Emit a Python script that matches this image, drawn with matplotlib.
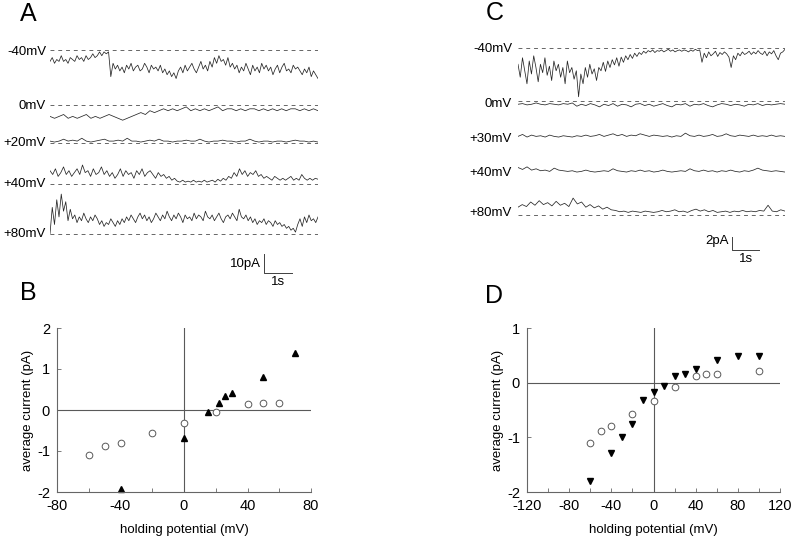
import matplotlib

matplotlib.use("Agg")
import matplotlib.pyplot as plt
import numpy as np

plt.rcParams["font.family"] = ["Liberation Sans", "DejaVu Sans"]
plt.rcParams["axes.unicode_minus"] = False

W, H = 800, 541

# --- panel A traces (pA, relative to zero-current baseline) ---
A_LABELS = ["-40mV", "0mV", "+20mV", "+40mV", "+80mV"]
a_m40 = [-6, -4, -7, -5, -6, -3, -6, -5, -7, -4, -5, -6, -3, -5, -4, -6, -3, -5, -4, -2,
         -4, -3, -1, -3, -1, -2, -1,
         -14, -7, -10, -8, -11, -9, -12, -8, -10, -7, -11, -9, -8, -11, -10, -7, -9, -12,
         -8, -10, -9, -11, -8, -12, -10, -13, -11, -14, -12, -15, -11,
         -9, -12, -8, -11, -9, -7, -10, -12, -9, -6, -10, -8, -11,
         -6, -9, -4, -7, -3, -6, -5, -8, -4, -9, -7,
         -10, -8, -12, -9, -11, -7, -10, -13, -8, -11, -9, -12, -7, -10, -8, -11, -9, -13,
         -10, -8, -12, -9, -7, -11, -10, -12, -8, -10, -9, -11, -13, -10, -12, -9, -14,
         -11, -13, -15]
a_0 = [-6, -7, -6, -5, -7, -6, -7, -6, -5, -7, -6, -7, -6, -5, -6, -7, -8, -7, -6, -5,
       -4, -5, -3, -4, -3, -2, -3, -2, -3, -2, -1, -3, -2, -3, -2, -3, -2, -1, -3, -2,
       -2, -3, -2, -3, -2, -2, -3, -2, -3, -2, -3, -2, -3, -2, -2, -3, -2, -3, -2, -3]
a_20 = [1, 0.5, 1, 2, 1, 1.5, 1, 2.5, 1, 0.5, 1, 1.5, 2, 1, 1, 1.5, 1, 2.5, 1, 1,
        0.5, 1, 1.5, 1, 2, 1, 1, 0.5, 1, 1, 1.5, 1, 1, 2, 1, 0.5, 1, 1, 1.5, 1,
        1, 0.5, 1, 1, 2, 1, 0.5, 1, 1, 0.5, 1, 1, 0.5, 1, 1.5, 1, 1, 0.5, 1, 0.5]
a_40 = [7, 5, 8, 4, 6, 9, 5, 7, 4, 6, 8, 5, 10, 6, 7, 4, 8, 5, 6, 9, 5, 7, 4, 6, 3, 5,
        8, 4, 7, 5, 6, 3, 7, 5, 8, 4, 6, 7, 5, 3, 6, 4, 5, 3, 4, 2, 3, 1.5, 1, 2, 1, 1.5,
        1, 2, 1, 1.5, 1, 2, 1, 1.5, 2, 1, 2.5, 1.5, 3, 2, 4, 3, 6, 4, 8, 5, 7, 4, 6, 5, 7,
        4, 5, 3, 4, 3, 2, 4, 3, 2, 3, 2, 3, 4, 2, 3, 2, 5, 3, 2, 3, 2, 3, 2.5]
a_80 = [0, 14, 5, 18, 9, 21, 12, 17, 7, 13, 8, 10, 6, 9, 7, 11, 8, 6, 9, 7, 10, 8, 5, 7,
        4, 6, 5, 8, 6, 4, 7, 5, 8, 6, 9, 7, 10, 8, 6, 9, 11, 8, 10, 7, 9, 6, 8, 11, 9, 7,
        10, 8, 12, 9, 7, 10, 8, 11, 9, 6, 10, 8, 9, 7, 11, 8, 10, 9, 7, 12, 9, 8, 10, 7,
        9, 11, 8, 6, 9, 10, 8, 11, 9, 7, 13, 9, 8, 10, 7, 9, 6, 8, 5, 7, 6, 8, 5, 7, 6,
        4, 7, 5, 6, 4, 5, 3, 4, 2, 3, 1, 5, 8, 4, 9, 6, 10, 7, 8, 6, 9]

# --- panel C traces ---
C_LABELS = ["-40mV", "0mV", "+30mV", "+40mV", "+80mV"]
c_m40 = [-2.5, -4.5, -1.5, -3.5, -5.5, -2, -4, -1.2, -3, -5.2, -2.5, -3.8, -1.5, -4.2,
         -2.8, -5, -2, -3.5, -2.5, -4.5, -3, -5.5, -2, -3.8, -3, -4.8, -3.5, -7.5, -4,
         -5.5, -3, -4.5, -2.5, -4, -3.2, -5, -3, -3.5, -2.2, -3.6, -2, -3, -1.8, -2.6,
         -1.5, -2.8, -1.4, -2.2, -1.2, -1.8, -1, -1.6, -0.8, -1.3, -0.7, -1, -0.5, -0.8,
         -0.4, -0.6, -0.3, -0.7, -0.4, -0.5, -0.3, -0.6, -0.4, -0.2, -0.5, -0.3, -0.6,
         -0.4, -0.3, -0.5, -0.3, -0.4, -0.6, -0.3, -0.5, -0.2, -0.4, -0.3, -2.2, -0.8,
         -1.5, -0.6, -1.2, -0.9, -0.5, -1.3, -0.7, -1, -0.6, -0.9, -1.4, -3, -1.2, -1.8,
         -0.8, -1.2, -0.6, -1, -0.8, -0.5, -1, -0.6, -0.9, -0.4, -0.8, -1, -0.5, -1.2,
         -0.6, -0.9, -0.4, -1.2, -1.8, -0.8, -0.6, -0.2]
c_0 = [-0.5, -0.4, -0.6, -0.5, -0.3, -0.5, -0.6, -0.4, -0.5, -0.6, -0.4, -0.5, -0.3,
       -0.8, -0.5, -0.7, -0.4, -0.6, -0.9, -0.5, -0.7, -0.4, -0.8, -0.5, -0.6, -0.9,
       -0.5, -0.4, -0.7, -0.5, -0.8, -0.6, -0.4, -0.7, -0.9, -0.5, -0.6, -0.4, -0.8,
       -0.5, -0.6, -0.4, -0.7, -0.9, -0.6, -0.4, -0.5, -0.7, -0.5, -0.6, -0.8, -0.5,
       -0.6, -0.4, -0.7, -0.5, -0.6, -0.5, -0.4, -0.5]
c_30 = [0.4, 0.7, 0.3, 0.6, 0.4, 0.5, 0.3, 0.6, 0.4, 0.3, 0.5, 0.4, 0.3, 0.5, 0.4,
        0.6, 0.4, 0.5, 0.7, 0.4, 0.6, 0.8, 0.5, 0.7, 0.4, 0.6, 0.5, 0.8, 0.6, 0.4,
        0.6, 0.5, 0.4, 0.5, 0.3, 0.5, 0.4, 0.9, 0.5, 0.4, 0.6, 0.4, 0.5, 0.7, 0.4,
        0.5, 0.8, 0.5, 0.4, 0.6, 0.5, 0.4, 0.6, 0.4, 0.5, 0.4, 0.6, 0.4, 0.5, 0.4]
c_40 = [1.0, 0.7, 1.1, 0.6, 0.8, 0.5, 0.6, 0.4, 0.9, 0.6, 0.5, 0.4, 0.5, 0.3, 0.4,
        0.6, 0.4, 0.3, 0.4, 0.5, 0.4, 0.8, 0.5, 0.4, 0.3, 0.5, 0.4, 0.6, 0.4, 0.5,
        0.3, 0.4, 0.6, 0.4, 0.3, 0.4, 0.5, 0.4, 0.8, 0.5, 0.4, 0.6, 0.4, 0.5, 0.3,
        0.5, 0.4, 0.6, 0.4, 0.3, 0.5, 0.4, 0.6, 0.9, 0.6, 0.5, 0.4, 0.5, 0.4, 0.3]
c_80 = [1.2, 1.6, 1.3, 2.0, 1.5, 2.2, 1.6, 1.9, 1.4, 2.1, 1.5, 1.8, 1.3, 2.6, 1.7,
        2.0, 1.2, 1.6, 1.1, 1.4, 0.9, 1.2, 0.8, 0.7, 0.5, 0.6, 0.4, 0.6, 0.5, 0.4,
        0.6, 0.5, 0.4, 0.5, 0.7, 0.5, 0.6, 0.8, 0.5, 0.6, 0.4, 0.7, 0.9, 0.6, 0.8,
        0.5, 0.7, 0.4, 0.5, 0.6, 0.4, 0.6, 0.5, 0.7, 0.5, 0.6, 0.5, 0.7, 0.6, 1.5,
        0.6, 0.5, 0.8, 0.6]

# --- panel B / D current-voltage data ---
b_circ_v = [-60, -50, -40, -20, 0, 20, 40, 50, 60]
b_circ_i = [-1.1, -0.88, -0.8, -0.57, -0.32, -0.06, 0.15, 0.18, 0.18]
b_tri_v = [-40, 0, 15, 22, 26, 30, 50, 70]
b_tri_i = [-1.93, -0.68, -0.06, 0.16, 0.34, 0.42, 0.8, 1.4]

d_circ_v = [-60, -50, -40, -20, 0, 20, 40, 50, 60, 100]
d_circ_i = [-1.1, -0.88, -0.8, -0.58, -0.33, -0.08, 0.13, 0.16, 0.16, 0.21]
d_tri_v = [-60, -40, -30, -20, -10, 0, 10, 20, 30, 40, 60, 80, 100]
d_tri_i = [-1.8, -1.28, -1.0, -0.75, -0.32, -0.17, -0.07, 0.12, 0.16, 0.25, 0.42, 0.48, 0.49]

fig = plt.figure(figsize=(W / 100, H / 100), dpi=100)


def fbox(x0, y0, x1, y1):
    return [x0 / W, 1 - y1 / H, (x1 - x0) / W, (y1 - y0) / H]


def ftext(x, y, s, **kw):
    fig.text(x / W, 1 - y / H, s, **kw)


def trace_panel(px, pa_per_px, s_per_px, traces, baselines, dashed, labels, label_ys,
                label_x, bar_pa, bar_px, bar_label, bar_text):
    x0, x1 = px
    ax = fig.add_axes(fbox(x0, 30, x1, 290))
    ax.set_xlim(0, (x1 - x0) * s_per_px)
    ax.set_ylim(-260 * pa_per_px, 0)
    ax.axis("off")
    for tr, b, dsh in zip(traces, baselines, dashed):
        y0 = -(b - 30) * pa_per_px
        t = np.linspace(0, (x1 - x0) * s_per_px, len(tr))
        if dsh:
            ax.plot([0, t[-1]], [y0, y0], color="0.4", lw=0.7, dashes=(4, 4))
        ax.plot(t, y0 + np.array(tr), color="0.15", lw=0.55)
    for lab, ly in zip(labels, label_ys):
        ftext(label_x, ly, lab, ha="right", va="center", fontsize=9.5)
    # scale bar
    bx, by = bar_px
    tx = (bx - x0) * s_per_px
    ty = -(by - 30) * pa_per_px
    ax.plot([tx, tx, tx + 1], [ty + bar_pa, ty, ty], color="0.25", lw=0.7)
    ftext(bx - 3, by - 9, bar_label, ha="right", va="center", fontsize=9.5)
    ftext(bx + 14, by + 9, bar_text, ha="center", va="center", fontsize=9.5)


trace_panel((50, 318), 10 / 19, 1 / 28, [a_m40, a_0, a_20, a_40, a_80],
            [50, 105, 143, 184, 234], [True, True, True, True, True],
            A_LABELS, [52, 106, 143, 184, 234], 46, 10, (264, 273), "10pA", "1s")
trace_panel((518, 785), 2 / 13, 1 / 27, [c_m40, c_0, c_30, c_40, c_80],
            [48, 101, 139, 174, 215], [True, True, False, False, True],
            C_LABELS, [49, 104, 139, 173, 213], 512, 2, (732, 250), "2pA", "1s")


def iv_panel(box, xlim, ylim, xticks, xminor, yticks, cv, ci, tv, ti, tmark):
    ax = fig.add_axes(box)
    ax.set_xlim(*xlim)
    ax.set_ylim(*ylim)
    for s in ("top", "right"):
        ax.spines[s].set_visible(False)
    for s in ("left", "bottom"):
        ax.spines[s].set_color("0.4")
        ax.spines[s].set_linewidth(0.8)
    ax.axhline(0, color="0.35", lw=0.8)
    ax.axvline(0, color="0.35", lw=0.8)
    ax.set_xticks(xticks)
    ax.set_xticks(xminor, minor=True)
    ax.set_yticks(yticks)
    ax.tick_params(which="both", direction="in", length=3, width=0.6, color="0.4",
                   labelsize=10.5, pad=5)
    ax.plot(cv, ci, "o", ms=4.8, mfc="white", mec="0.35", mew=0.7, clip_on=False)
    ax.plot(tv, ti, tmark, ms=4.5, color="black", clip_on=False)
    ax.set_xlabel("holding potential (mV)", fontsize=9.5, labelpad=8)
    ax.set_ylabel("average current (pA)", fontsize=9.5, labelpad=2)
    return ax


iv_panel(fbox(57, 328, 311, 492), (-80, 80), (-2, 2), [-80, -40, 0, 40, 80],
         np.arange(-80, 81, 20), [-2, -1, 0, 1, 2],
         b_circ_v, b_circ_i, b_tri_v, b_tri_i, "^")
iv_panel(fbox(527, 328, 780, 492), (-120, 120), (-2, 1), [-120, -80, -40, 0, 40, 80, 120],
         np.arange(-120, 121, 20), [-2, -1, 0, 1],
         d_circ_v, d_circ_i, d_tri_v, d_tri_i, "v")

for lab, x, y in (("A", 28, 14), ("B", 28, 293), ("C", 495, 13), ("D", 494, 296)):
    ftext(x, y, lab, ha="center", va="center", fontsize=18)

fig.savefig("out.png", dpi=100)
